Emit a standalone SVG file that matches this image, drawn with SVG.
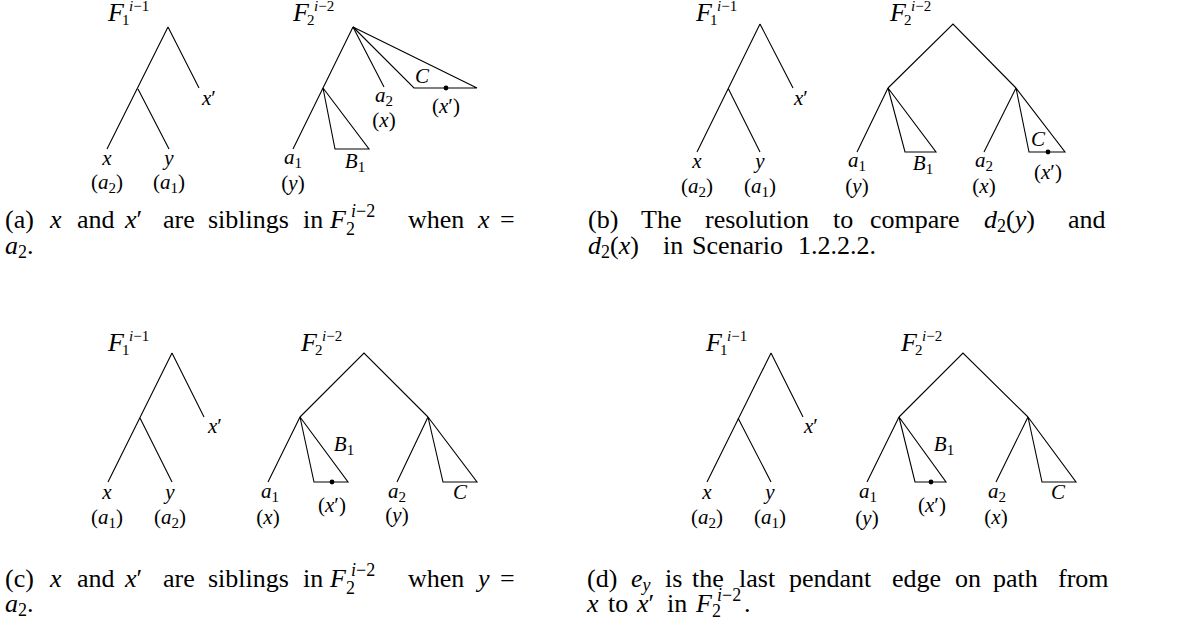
<svg xmlns="http://www.w3.org/2000/svg" width="1177" height="620" viewBox="0 0 1177 620">
<style>
.e{stroke:#000;stroke-width:1.1;fill:none;stroke-linejoin:miter}
text{font-family:"Liberation Serif","Times New Roman",serif;fill:#000}
.l{font-size:21px;text-anchor:middle}
.i{font-style:italic}
.F{font-size:26px;font-style:italic}
.ss{font-size:15px}
.c{font-size:26px}
.cs{font-size:18px}
.d{fill:#000}
</style>
<rect width="1177" height="620" fill="#fff"/>

<!-- connectors -->
<g id="connectors" class="e">
  <path d="M168,27 L107,149 M138,89 L169,149 M168,27 L199,88"/>
  <path d="M353,27 L293,149 M353,27 L384,87"/>
  <path d="M760,24 L697,152 M728,88 L760,152 M760,24 L793,88"/>
  <path d="M888,88 L953,24 L1016,88 M888,88 L857,152 M1016,88 L984,152"/>
  <path d="M172,353 L108,482 M140,418 L172,482 M172,353 L204,417"/>
  <path d="M300,417 L364,353 L428,417 M300,417 L268,482 M428,417 L397,482"/>
  <path d="M771,353 L707,482 M738,418 L771,482 M771,353 L803,417"/>
  <path d="M899,417 L963,353 L1028,417 M899,417 L867,482 M1028,417 L996,482"/>
</g>

<!-- ===== Panel (a) ===== -->
<g id="a-F1">
  <text x="108" y="21" class="F">F</text>
  <text x="129" y="11" class="ss"><tspan class="i">i</tspan>−1</text>
  <text x="122" y="25" class="ss">1</text>
</g>
<g id="a-x"><text x="107" y="165" class="l i">x</text><text x="107" y="189" class="l">(<tspan class="i">a</tspan><tspan class="ss" dy="4">2</tspan><tspan dy="-4">)</tspan></text></g>
<g id="a-y"><text x="169" y="165" class="l i">y</text><text x="169" y="189" class="l">(<tspan class="i">a</tspan><tspan class="ss" dy="4">1</tspan><tspan dy="-4">)</tspan></text></g>
<g id="a-xp"><text x="209" y="105" class="l"><tspan class="i">x</tspan>′</text></g>
<g id="a-F2">
  <text x="293" y="21" class="F">F</text>
  <text x="314" y="11" class="ss"><tspan class="i">i</tspan>−2</text>
  <text x="307" y="25" class="ss">2</text>
</g>
<g id="a-a1"><text x="293" y="164" class="l"><tspan class="i">a</tspan><tspan class="ss" dy="4">1</tspan></text><text x="293" y="190" class="l">(<tspan class="i">y</tspan>)</text></g>
<g id="a-B1"><polygon class="e" points="323,88 335,149 369,149"/><text x="355" y="168" class="l"><tspan class="i">B</tspan><tspan class="ss" dy="4">1</tspan></text></g>
<g id="a-a2"><text x="384" y="102" class="l"><tspan class="i">a</tspan><tspan class="ss" dy="4">2</tspan></text><text x="384" y="127" class="l">(<tspan class="i">x</tspan>)</text></g>
<g id="a-C"><polygon class="e" points="353,27 414,88 477,88"/><circle class="d" cx="446" cy="88" r="2.4"/><text x="422" y="83" class="l i">C</text><text x="446" y="113" class="l">(<tspan class="i">x</tspan>′)</text></g>

<!-- ===== Panel (b) ===== -->
<g id="b-F1">
  <text x="696" y="21" class="F">F</text>
  <text x="717" y="11" class="ss"><tspan class="i">i</tspan>−1</text>
  <text x="710" y="25" class="ss">1</text>
</g>
<g id="b-x"><text x="697" y="168" class="l i">x</text><text x="697" y="193" class="l">(<tspan class="i">a</tspan><tspan class="ss" dy="4">2</tspan><tspan dy="-4">)</tspan></text></g>
<g id="b-y"><text x="760" y="168" class="l i">y</text><text x="760" y="193" class="l">(<tspan class="i">a</tspan><tspan class="ss" dy="4">1</tspan><tspan dy="-4">)</tspan></text></g>
<g id="b-xp"><text x="801" y="105" class="l"><tspan class="i">x</tspan>′</text></g>
<g id="b-F2">
  <text x="890" y="21" class="F">F</text>
  <text x="911" y="11" class="ss"><tspan class="i">i</tspan>−2</text>
  <text x="904" y="25" class="ss">2</text>
</g>
<g id="b-a1"><text x="857" y="167" class="l"><tspan class="i">a</tspan><tspan class="ss" dy="4">1</tspan></text><text x="857" y="193" class="l">(<tspan class="i">y</tspan>)</text></g>
<g id="b-B1"><polygon class="e" points="888,88 905,152 936,152"/><text x="923" y="170" class="l"><tspan class="i">B</tspan><tspan class="ss" dy="4">1</tspan></text></g>
<g id="b-a2"><text x="984" y="167" class="l"><tspan class="i">a</tspan><tspan class="ss" dy="4">2</tspan></text><text x="984" y="193" class="l">(<tspan class="i">x</tspan>)</text></g>
<g id="b-C"><polygon class="e" points="1016,88 1029,152 1065,152"/><circle class="d" cx="1048" cy="152" r="2.4"/><text x="1038" y="146" class="l i">C</text><text x="1048" y="179" class="l">(<tspan class="i">x</tspan>′)</text></g>

<!-- ===== Panel (c) ===== -->
<g id="c-F1">
  <text x="108" y="351" class="F">F</text>
  <text x="129" y="341" class="ss"><tspan class="i">i</tspan>−1</text>
  <text x="122" y="355" class="ss">1</text>
</g>
<g id="c-x"><text x="107" y="499" class="l i">x</text><text x="107" y="524" class="l">(<tspan class="i">a</tspan><tspan class="ss" dy="4">1</tspan><tspan dy="-4">)</tspan></text></g>
<g id="c-y"><text x="170" y="499" class="l i">y</text><text x="170" y="524" class="l">(<tspan class="i">a</tspan><tspan class="ss" dy="4">2</tspan><tspan dy="-4">)</tspan></text></g>
<g id="c-xp"><text x="215" y="433" class="l"><tspan class="i">x</tspan>′</text></g>
<g id="c-F2">
  <text x="301" y="351" class="F">F</text>
  <text x="322" y="341" class="ss"><tspan class="i">i</tspan>−2</text>
  <text x="315" y="355" class="ss">2</text>
</g>
<g id="c-a1"><text x="270" y="498" class="l"><tspan class="i">a</tspan><tspan class="ss" dy="4">1</tspan></text><text x="268" y="524" class="l">(<tspan class="i">x</tspan>)</text></g>
<g id="c-B1"><polygon class="e" points="300,417 314,482 348,482"/><circle class="d" cx="332" cy="482" r="2.4"/><text x="344" y="451" class="l"><tspan class="i">B</tspan><tspan class="ss" dy="4">1</tspan></text><text x="332" y="512" class="l">(<tspan class="i">x</tspan>′)</text></g>
<g id="c-a2"><text x="397" y="498" class="l"><tspan class="i">a</tspan><tspan class="ss" dy="4">2</tspan></text><text x="397" y="522" class="l">(<tspan class="i">y</tspan>)</text></g>
<g id="c-C"><polygon class="e" points="428,417 443,482 477,482"/><text x="460" y="499" class="l i">C</text></g>

<!-- ===== Panel (d) ===== -->
<g id="d-F1">
  <text x="706" y="351" class="F">F</text>
  <text x="727" y="341" class="ss"><tspan class="i">i</tspan>−1</text>
  <text x="720" y="355" class="ss">1</text>
</g>
<g id="d-x"><text x="707" y="499" class="l i">x</text><text x="707" y="524" class="l">(<tspan class="i">a</tspan><tspan class="ss" dy="4">2</tspan><tspan dy="-4">)</tspan></text></g>
<g id="d-y"><text x="770" y="499" class="l i">y</text><text x="770" y="524" class="l">(<tspan class="i">a</tspan><tspan class="ss" dy="4">1</tspan><tspan dy="-4">)</tspan></text></g>
<g id="d-xp"><text x="811" y="433" class="l"><tspan class="i">x</tspan>′</text></g>
<g id="d-F2">
  <text x="901" y="351" class="F">F</text>
  <text x="922" y="341" class="ss"><tspan class="i">i</tspan>−2</text>
  <text x="915" y="355" class="ss">2</text>
</g>
<g id="d-a1"><text x="868" y="498" class="l"><tspan class="i">a</tspan><tspan class="ss" dy="4">1</tspan></text><text x="867" y="525" class="l">(<tspan class="i">y</tspan>)</text></g>
<g id="d-B1"><polygon class="e" points="899,417 915,482 946,482"/><circle class="d" cx="931" cy="482" r="2.4"/><text x="944" y="451" class="l"><tspan class="i">B</tspan><tspan class="ss" dy="4">1</tspan></text><text x="932" y="512" class="l">(<tspan class="i">x</tspan>′)</text></g>
<g id="d-a2"><text x="997" y="498" class="l"><tspan class="i">a</tspan><tspan class="ss" dy="4">2</tspan></text><text x="996" y="524" class="l">(<tspan class="i">x</tspan>)</text></g>
<g id="d-C"><polygon class="e" points="1028,417 1042,482 1076,482"/><text x="1058" y="499" class="l i">C</text></g>

<!-- ===== Captions ===== -->
<g id="cap-a">
  <text class="c" y="228"><tspan x="5">(a)</tspan><tspan x="50" class="i">x</tspan><tspan x="77">and</tspan><tspan x="125" class="i">x</tspan><tspan>′</tspan><tspan x="163">are</tspan><tspan x="208">siblings</tspan><tspan x="303">in</tspan><tspan x="330" class="i">F</tspan><tspan x="408">when</tspan><tspan x="478" class="i">x</tspan><tspan x="500">=</tspan></text>
  <text class="cs" x="351" y="217"><tspan class="i">i</tspan>−2</text>
  <text class="cs" x="346" y="235">2</text>
  <text class="c" y="254"><tspan x="5" class="i">a</tspan><tspan class="cs" dy="4">2</tspan><tspan dy="-4">.</tspan></text>
</g>
<g id="cap-b">
  <text class="c" y="228"><tspan x="588">(b)</tspan><tspan x="641">The</tspan><tspan x="705">resolution</tspan><tspan x="833">to</tspan><tspan x="870">compare</tspan><tspan x="984" class="i">d</tspan><tspan class="cs" dy="4">2</tspan><tspan dy="-4">(</tspan><tspan class="i">y</tspan><tspan>)</tspan><tspan x="1068">and</tspan></text>
  <text class="c" y="254"><tspan x="588" class="i">d</tspan><tspan class="cs" dy="4">2</tspan><tspan dy="-4">(</tspan><tspan class="i">x</tspan><tspan>)</tspan><tspan x="663">in</tspan><tspan x="692">Scenario</tspan><tspan x="798">1.2.2.2.</tspan></text>
</g>
<g id="cap-c">
  <text class="c" y="587"><tspan x="5">(c)</tspan><tspan x="50" class="i">x</tspan><tspan x="77">and</tspan><tspan x="125" class="i">x</tspan><tspan>′</tspan><tspan x="163">are</tspan><tspan x="208">siblings</tspan><tspan x="303">in</tspan><tspan x="330" class="i">F</tspan><tspan x="408">when</tspan><tspan x="478" class="i">y</tspan><tspan x="500">=</tspan></text>
  <text class="cs" x="351" y="576"><tspan class="i">i</tspan>−2</text>
  <text class="cs" x="346" y="594">2</text>
  <text class="c" y="612"><tspan x="5" class="i">a</tspan><tspan class="cs" dy="4">2</tspan><tspan dy="-4">.</tspan></text>
</g>
<g id="cap-d">
  <text class="c" y="587"><tspan x="587">(d)</tspan><tspan x="631" class="i">e</tspan><tspan class="cs i" dy="4">y</tspan><tspan x="665" dy="-4">is</tspan><tspan x="692">the</tspan><tspan x="739">last</tspan><tspan x="789">pendant</tspan><tspan x="892">edge</tspan><tspan x="955">on</tspan><tspan x="993">path</tspan><tspan x="1058">from</tspan></text>
  <text class="c" y="612"><tspan x="587" class="i">x</tspan><tspan x="608">to</tspan><tspan x="637" class="i">x</tspan><tspan>′</tspan><tspan x="667">in</tspan><tspan x="696" class="i">F</tspan><tspan x="744">.</tspan></text>
  <text class="cs" x="717" y="601"><tspan class="i">i</tspan>−2</text>
  <text class="cs" x="712" y="617">2</text>
</g>
</svg>
